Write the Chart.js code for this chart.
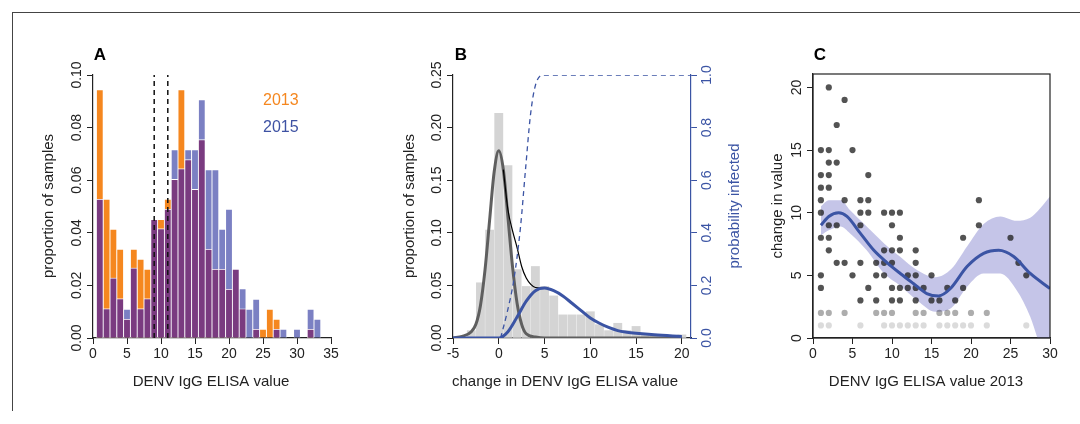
<!DOCTYPE html>
<html><head><meta charset="utf-8">
<script src="https://cdn.jsdelivr.net/npm/chart.js@4/dist/chart.umd.min.js"></script>
<style>
body{margin:0;background:#fff;width:1080px;height:424px;overflow:hidden;position:relative;font-family:"Liberation Sans",Arial,sans-serif}
.box{position:absolute;top:0;height:424px}
#frame{position:absolute;left:12px;top:12px;width:1070px;height:398px;border-top:1px solid #444;border-left:1px solid #444}
</style></head><body>
<div id="frame"></div>
<div class="box" style="left:0;width:345px"><canvas id="ca" width="345" height="424"></canvas></div>
<div class="box" style="left:360px;width:400px"><canvas id="cb" width="400" height="424"></canvas></div>
<div class="box" style="left:770px;width:310px"><canvas id="cc" width="310" height="424"></canvas></div>
<script>
// Panel A: histogram of ELISA values
const binsA = [1,2,3,4,5,6,7,8,9,10,11,12,13,14,15,16,17,18,19,20,21,22,23,24,25,26,27,28,29,30,31,32,33];
const y2013 = [.0944,.0527,.0413,.0337,.0071,.0337,.0299,.0261,.045,.045,.0527,.0603,.0944,.0678,.0565,.0754,.0337,.0261,.0261,.0185,.0261,.0111,0,.0033,.0033,.0109,.0071,0,0,0,0,.0033,0];
const y2015 = [.0527,.0111,.0228,.0149,.0109,.0266,.0111,.0149,.045,.0415,.0489,.0716,.0643,.0716,.0716,.0906,.064,.064,.0413,.0489,.0261,.0187,.0109,.0147,0,0,.0033,.0033,0,.0033,0,.0109,.0071];
const cutoffs = [9, 11];

// Panel B: change histogram and fitted curves
const binsB = [-3,-2,-1,0,1,2,3,4,5,6,7,8,9,10,11,12,13,14,15,16,17,18,19,20];
const propB = [.007,.0525,.1025,.2136,.164,.065,.049,.068,.049,.040,.022,.022,.022,.025,.0127,.007,.014,.007,.011,.003,.002,.002,.002,.003];
const grayX = [-5,-4,-3,-2.5,-2,-1.5,-1,-0.5,0,0.5,1,1.5,2,2.5,3,4,5,20];
const grayY = [0,.0015,.006,.013,.031,.065,.112,.158,.178,.160,.115,.068,.033,.013,.004,.001,0,0];
const blackX = [0.5,1,1.5,2,2.5,3,3.5,4,4.7,5.2];
const blackY = [.160,.122,.102,.086,.068,.057,.051,.048,.0475,.0474];
const blueX = [-5,0,1,2,3,4,5,6,7,8,9,10,11,12,13,14,15,17,20];
const blueY = [0,0,.006,.02,.035,.045,.0475,.045,.04,.033,.026,.019,.014,.010,.007,.0055,.0045,.003,.0015];
const probX = [0.2,0.9,1.64,2.37,2.92,3.47,4.0,4.9,21];
const probY = [0,.095,.22,.42,.64,.85,.96,1,1];

// Panel C: change vs 2013 value
const cX = [1,2,2,4,3,5,2,3,1,2,7,1,2,1,4,6,7,21,1,6,7,9,10,11,2,3,6,10,21,1,2,11,19,25,2,9,10,11,13,3,4,6,8,9,10,13,26,5,1,8,9,12,13,15,27,1,7,10,11,12,13,14,17,19,6,8,10,11,13,15,16,18,
  1,2,4,8,9,10,13,14,16,17,18,20,22, 1,2,6,9,10,11,12,13,14,16,17,18,19,20,22,27];
const cY = [15,15,20,19,17,15,14,14,13,13,13,12,12,11,11,11,11,11,10,10,10,10,10,10,9,9,9,9,9,8,8,8,8,8,7,7,7,7,7,6,6,6,6,6,6,6,6,5,5,5,5,5,5,5,5,4,4,4,4,4,4,4,4,4,3,3,3,3,3,3,3,3,
  2,2,2,2,2,2,2,2,2,2,2,2,2, 1,1,1,1,1,1,1,1,1,1,1,1,1,1,1,1];
const fitX = [1,2,3.25,4.3,6,7.7,9.4,11.05,12.7,14.4,15.9,17.4,19.5,21.6,23.5,25.4,27.5,30];
const fitY = [9.0,9.7,10.0,9.7,8.35,7.0,6.0,5.15,4.35,3.55,3.36,3.95,5.7,6.75,7.0,6.5,5.15,3.95];
const bandX = [1,2,3.5,4.7,6.8,9,11,13.2,15.5,17.5,19.5,21.6,23.7,25.8,27.5,28.4,30];
const bandHi = [10.5,11,11,10.2,8.9,7.55,6.5,5.4,4.85,5.5,7.3,9.1,9.7,9.35,9.6,10.1,11.3];
const bandLo = [8.2,8.6,8.9,8.35,7.0,5.15,4.2,3.0,2.1,2.4,4.1,5.15,5.15,3.8,1.7,0,-3.5];

const FONT = '"Liberation Sans", Arial, sans-serif';
const BLUE = '#3b54a4';
const xy = (xs, ys) => xs.map((x, i) => ({x, y: ys[i]}));

// draws rotated y tick labels, axis titles and panel letters
const textPlugin = {
  id: 'texts',
  afterDraw(chart, args, opts) {
    const ctx = chart.ctx;
    ctx.save();
    (opts.rot || []).forEach(r => {
      const s = chart.scales[r.id];
      ctx.fillStyle = r.color || '#222';
      ctx.font = '14px ' + FONT;
      ctx.textAlign = 'center';
      ctx.textBaseline = r.side === 'right' ? 'top' : 'bottom';
      s.ticks.forEach(t => {
        const py = s.getPixelForValue(t.value);
        const px = r.side === 'right' ? s.left + 9 : s.right - 9;
        ctx.save();
        ctx.translate(px, py);
        ctx.rotate(-Math.PI / 2);
        ctx.fillText(t.value.toFixed(r.dec), 0, 0);
        ctx.restore();
      });
    });
    (opts.items || []).forEach(t => {
      ctx.save();
      ctx.fillStyle = t.color || '#222';
      ctx.font = t.font || ('15px ' + FONT);
      ctx.textAlign = t.align || 'center';
      ctx.textBaseline = 'middle';
      ctx.translate(t.x, t.y);
      if (t.rot) ctx.rotate(-Math.PI / 2);
      ctx.fillText(t.text, 0, 0);
      ctx.restore();
    });
    if (opts.box) {
      const a = chart.chartArea;
      ctx.strokeStyle = '#222'; ctx.lineWidth = 1.2;
      ctx.strokeRect(a.left, a.top, a.right - a.left, a.bottom - a.top);
    }
    ctx.restore();
  }
};

function axisX(min, max, step, h) {
  return {type: 'linear', min, max, offset: false,
    ticks: {stepSize: step, includeBounds: false, color: '#222', font: {size: 14, family: FONT}, padding: 2, maxRotation: 0},
    grid: {drawOnChartArea: false, drawTicks: true, tickLength: 6, color: '#222', offset: false},
    border: {display: true, color: '#222', width: 1.2},
    afterFit: s => { s.height = h; }};
}
function axisY(min, max, step, w, pos, color) {
  return {type: 'linear', min, max, position: pos || 'left',
    ticks: {stepSize: step, includeBounds: false, display: false},
    grid: {drawOnChartArea: false, drawTicks: true, tickLength: 6, color: color || '#222'},
    border: {display: true, color: color || '#222', width: 1.2},
    afterFit: s => { s.width = w; }};
}
const base = {responsive: false, animation: false, events: [],
  plugins: {legend: {display: false}, tooltip: {enabled: false}}};

const minAB = y2013.map((v, i) => Math.min(v, y2015[i]));
new Chart(document.getElementById('ca'), {
  type: 'bar',
  data: {datasets: [
    {data: xy(binsA, minAB), backgroundColor: '#7a3b80', order: 0},
    {data: xy(binsA, y2013), backgroundColor: '#f5871f', order: 2},
    {data: xy(binsA, y2015), backgroundColor: '#7b80c3', order: 1},
    ...cutoffs.map(c => ({type: 'line', data: [{x: c, y: 0}, {x: c, y: 0.1}], borderColor: '#111',
      borderWidth: 1.5, borderDash: [5, 4], pointRadius: 0, order: -1}))
  ].map(d => Object.assign({grouped: false, barThickness: 6.4, borderColor: '#fff', borderWidth: {left: 0.6, right: 0.6, top: 0.8}}, d))},
  options: Object.assign({}, base, {
    layout: {padding: {top: 75, right: 14}},
    scales: {x: axisX(0, 35, 5, 86), y: axisY(0, 0.1, 0.02, 93)},
    plugins: Object.assign({}, base.plugins, {texts: {
      rot: [{id: 'y', dec: 2}],
      items: [
        {text: 'A', x: 100, y: 55, font: 'bold 17px ' + FONT, color: '#000'},
        {text: '2013', x: 263, y: 101, align: 'left', font: '16px ' + FONT, color: '#f5871f'},
        {text: '2015', x: 263, y: 128, align: 'left', font: '16px ' + FONT, color: '#3e52a3'},
        {text: 'DENV IgG ELISA value', x: 211, y: 382},
        {text: 'proportion of samples', x: 49, y: 206, rot: true}
      ]}})
  }),
  plugins: [textPlugin]
});

new Chart(document.getElementById('cb'), {
  type: 'bar',
  data: {datasets: [
    {data: xy(binsB, propB), backgroundColor: '#d4d4d4', barThickness: 8.2, order: 5},
    {type: 'line', data: xy(grayX, grayY), borderColor: '#5f5f5f', borderWidth: 3, pointRadius: 0, cubicInterpolationMode: 'monotone', order: 3},
    {type: 'line', data: xy(blackX, blackY), borderColor: '#000', borderWidth: 1.2, pointRadius: 0, cubicInterpolationMode: 'monotone', order: 2},
    {type: 'line', data: xy(blueX, blueY), borderColor: BLUE, borderWidth: 3, pointRadius: 0, cubicInterpolationMode: 'monotone', order: 1},
    {type: 'line', yAxisID: 'y2', data: xy(probX, probY), borderColor: BLUE, borderWidth: 1.3, borderDash: [5, 4], pointRadius: 0, cubicInterpolationMode: 'monotone', order: 0}
  ]},
  options: Object.assign({}, base, {
    layout: {padding: {top: 75, right: 0}},
    scales: {x: axisX(-5, 21, 5, 86), y: axisY(0, 0.25, 0.05, 93), y2: axisY(0, 1, 0.2, 69, 'right', BLUE)},
    plugins: Object.assign({}, base.plugins, {texts: {
      rot: [{id: 'y', dec: 2}, {id: 'y2', dec: 1, side: 'right', color: BLUE}],
      items: [
        {text: 'B', x: 101, y: 55, font: 'bold 17px ' + FONT, color: '#000'},
        {text: 'change in DENV IgG ELISA value', x: 205, y: 382},
        {text: 'proportion of samples', x: 50, y: 206, rot: true},
        {text: 'probability infected', x: 375, y: 206, rot: true, color: BLUE}
      ]}})
  }),
  plugins: [textPlugin]
});

const dotCol = cY.map(v => v >= 3 ? 'rgba(35,35,35,0.78)' : v === 2 ? 'rgba(0,0,0,0.32)' : 'rgba(0,0,0,0.14)');
new Chart(document.getElementById('cc'), {
  type: 'scatter',
  data: {datasets: [
    {type: 'line', data: xy(bandX, bandHi), borderWidth: 0, pointRadius: 0, fill: '+1', backgroundColor: 'rgba(140,140,210,0.5)', cubicInterpolationMode: 'monotone', order: 4},
    {type: 'line', data: xy(bandX, bandLo), borderWidth: 0, pointRadius: 0, fill: false, cubicInterpolationMode: 'monotone', order: 4},
    {data: xy(cX, cY), backgroundColor: dotCol, borderWidth: 0, pointRadius: 3.1, order: 2},
    {type: 'line', data: xy(fitX, fitY), borderColor: BLUE, borderWidth: 3, pointRadius: 0, cubicInterpolationMode: 'monotone', order: 1}
  ]},
  options: Object.assign({}, base, {
    layout: {padding: {top: 74, right: 30}},
    scales: {x: axisX(0, 30, 5, 86), y: axisY(0, 21.07, 5, 43)},
    plugins: Object.assign({}, base.plugins, {texts: {
      rot: [{id: 'y', dec: 0}],
      box: true,
      items: [
        {text: 'C', x: 50, y: 55, font: 'bold 17px ' + FONT, color: '#000'},
        {text: 'DENV IgG ELISA value 2013', x: 156, y: 382},
        {text: 'change in value', x: 8, y: 206, rot: true}
      ]}})
  }),
  plugins: [textPlugin]
});
</script>
</body></html>
